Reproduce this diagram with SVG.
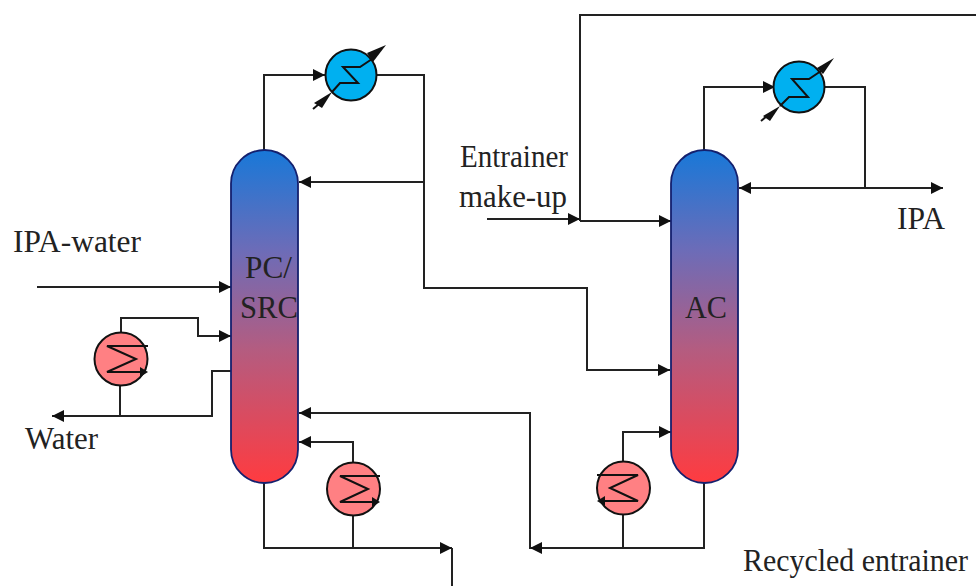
<svg xmlns="http://www.w3.org/2000/svg" width="976" height="586" viewBox="0 0 976 586">
<style>
.c{fill:none;stroke:#222;stroke-width:2}
.col{fill:url(#g);stroke:#14206e;stroke-width:1.8}
.h{fill:#00b0f0;stroke:#111;stroke-width:2}
.r{fill:#ff8083;stroke:#111;stroke-width:2}
.z{fill:none;stroke:#111;stroke-width:2}
.a{fill:#111}
text{font-family:"Liberation Serif","Times New Roman",serif;font-size:31px;fill:#222}
</style>
<defs>
<linearGradient id="g" x1="0" y1="0" x2="0" y2="1">
<stop offset="0" stop-color="#1878d8"/><stop offset="0.3" stop-color="#6c6cb8"/><stop offset="0.6" stop-color="#b45c80"/><stop offset="1" stop-color="#ff3b40"/>
</linearGradient>
<polygon id="ar" class="a" points="0,0 -12,-6 -12,6"/>
<polygon id="al" class="a" points="0,0 12,-6 12,6"/>
</defs>
<rect width="976" height="586" fill="#fff"/>
<g id="connectors">
<path class="c" d="M264 150V75H325"/>
<path class="c" d="M375 75H424V288H587V370H670"/>
<path class="c" d="M424 182H299"/>
<path class="c" d="M37 287H231"/>
<path class="c" d="M121 333V318H198V336H231"/>
<path class="c" d="M120 385V416H212V371H231"/>
<path class="c" d="M120 416H52"/>
<path class="c" d="M264 483V548H452"/>
<path class="c" d="M353 463V442H299"/>
<path class="c" d="M353 515V548"/>
<path class="c" d="M452 548V586"/>
<path class="c" d="M299 413H530V548H704V483"/>
<path class="c" d="M623 548V514"/>
<path class="c" d="M623 462V432H671"/>
<path class="c" d="M704 150V87H775"/>
<path class="c" d="M825 87H865V188H739"/>
<path class="c" d="M865 188H943"/>
<path class="c" d="M580 221V15H976"/>
<path class="c" d="M487 219H580"/>
<path class="c" d="M580 221H671"/>
<use href="#ar" x="325" y="75"/>
<use href="#al" x="299" y="182"/>
<use href="#ar" x="231" y="287"/>
<use href="#ar" x="231" y="336"/>
<use href="#al" x="52" y="416"/>
<use href="#al" x="299" y="442"/>
<use href="#al" x="299" y="413"/>
<use href="#ar" x="452" y="548"/>
<use href="#al" x="530" y="548"/>
<use href="#ar" x="671" y="432"/>
<use href="#ar" x="670" y="370"/>
<use href="#ar" x="775" y="87"/>
<use href="#al" x="739" y="188"/>
<use href="#ar" x="943" y="188"/>
<use href="#ar" x="580" y="219"/>
<use href="#ar" x="671" y="221"/>
</g>
<g id="pc-src">
<rect class="col" x="231" y="150" width="67" height="333" rx="33.5" ry="33.5"/>
<text x="245" y="278" textLength="47" lengthAdjust="spacingAndGlyphs">PC/</text>
<text x="240" y="318" textLength="58" lengthAdjust="spacingAndGlyphs">SRC</text>
</g>
<g id="ac">
<rect class="col" x="671" y="150" width="67" height="333" rx="33.5" ry="33.5"/>
<text x="685" y="318" textLength="42" lengthAdjust="spacingAndGlyphs">AC</text>
</g>
<g id="condenser-1">
<circle class="h" cx="351" cy="75" r="25.5"/>
<path class="z" d="M332 92L340 83H358L343 67H360L372 59"/>
<path class="a" d="M386 45L367 53L373 62Z"/>
<path class="a" d="M332 92L314 103L322 108Z"/>
<path class="z" d="M313 109L319 104" stroke-width="1.5"/>
</g>
<g id="condenser-2">
<circle class="h" cx="799" cy="87" r="25.5"/>
<path class="z" d="M780 106L789 97H808L792 79H809L821 71"/>
<path class="a" d="M834 58L817 68L823 74Z"/>
<path class="a" d="M780 106L763 116L770 121Z"/>
<path class="z" d="M761 121L767 116" stroke-width="1.5"/>
</g>
<g id="heater-side">
<circle class="r" cx="121" cy="359" r="26.5"/>
<path class="z" d="M148 346H107L136 359L107 372H146"/>
<path class="a" d="M148 372L140 367V377Z"/>
</g>
<g id="reboiler-1">
<circle class="r" cx="353.500" cy="489" r="26.5"/>
<path class="z" d="M380 476H340L368 489L340 502H378"/>
<path class="a" d="M380 502L372 497V507Z"/>
</g>
<g id="reboiler-2">
<circle class="r" cx="623.500" cy="488" r="26.5"/>
<path class="z" d="M597 475H638L610 488L638 501H600"/>
<path class="a" d="M597 501L605 496V506Z"/>
</g>
<g id="labels">
<text x="13" y="252" textLength="128" lengthAdjust="spacingAndGlyphs">IPA-water</text>
<text x="25" y="449" textLength="73" lengthAdjust="spacingAndGlyphs">Water</text>
<text x="460" y="167" textLength="108" lengthAdjust="spacingAndGlyphs">Entrainer</text>
<text x="459" y="207" textLength="108" lengthAdjust="spacingAndGlyphs">make-up</text>
<text x="897" y="229" textLength="48" lengthAdjust="spacingAndGlyphs">IPA</text>
<text x="743" y="571" textLength="225" lengthAdjust="spacingAndGlyphs">Recycled entrainer</text>
</g>
</svg>
